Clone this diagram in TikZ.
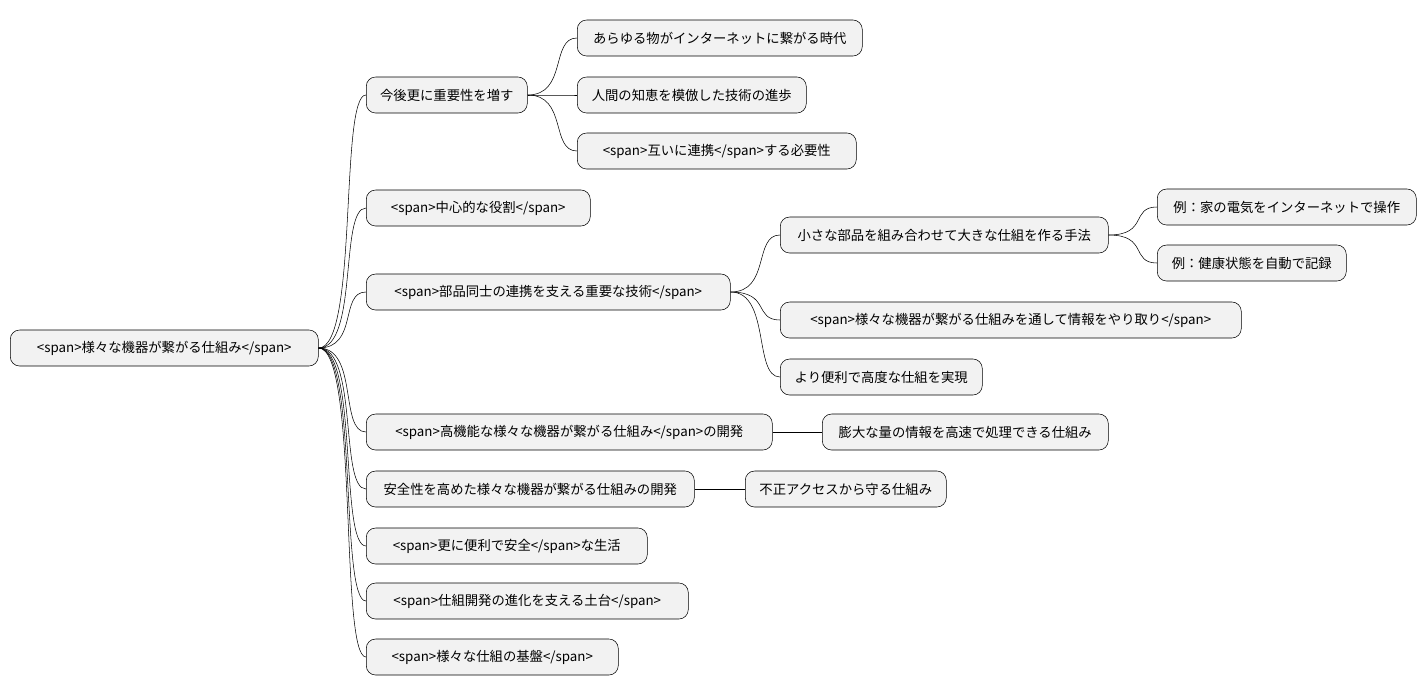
\documentclass[tikz,border=0pt]{standalone}
\usepackage{fontspec}
\setmainfont{Noto Sans CJK JP}
\usetikzlibrary{calc}
\tikzset{
  topic/.style={rectangle, rounded corners=7pt, draw=black, fill=gray!10, minimum height=27pt,
    inner xsep=0pt, font=\fontsize{10pt}{12pt}\selectfont, anchor=west},
  link/.style={thin, black}
}
% \mm{name}{x}{y}{width}{text}
\newcommand{\mm}[5]{\node (#1) [topic, minimum width=#4*0.75pt] at (#2,#3) {#5};}
\newcommand{\lk}[2]{\draw [link] (#1.east) .. controls +(30pt,0) and +(-20pt,0) .. (#2.west);}
\begin{document}
\begin{tikzpicture}[x=0.75pt,y=-0.75pt]
  \useasboundingbox (0,0) rectangle (1426,696);
  \mm{root}{10}{348}{308}{<span>様々な機器が繋がる仕組み</span>}

  \mm{fut}{366}{95}{161}{今後更に重要性を増す}
  \mm{cen}{366}{208}{224}{<span>中心的な役割</span>}
  \mm{tec}{366}{292}{364}{<span>部品同士の連携を支える重要な技術</span>}
  \mm{dev}{366}{432}{406}{<span>高機能な様々な機器が繋がる仕組み</span>の開発}
  \mm{saf}{366}{489}{328}{安全性を高めた様々な機器が繋がる仕組みの開発}
  \mm{lif}{366}{546}{281}{<span>更に便利で安全</span>な生活}
  \mm{bas}{366}{601}{322}{<span>仕組開発の進化を支える土台</span>}
  \mm{fnd}{366}{657}{252}{<span>様々な仕組の基盤</span>}

  \mm{all}{577}{38}{285}{あらゆる物がインターネットに繋がる時代}
  \mm{ai}{577}{95}{229}{人間の知恵を模倣した技術の進歩}
  \mm{coop}{577}{151}{279}{<span>互いに連携</span>する必要性}

  \mm{small}{780}{235}{328}{小さな部品を組み合わせて大きな仕組を作る手法}
  \mm{info}{780}{320}{461}{<span>様々な機器が繋がる仕組みを通して情報をやり取り</span>}
  \mm{conv}{780}{377}{202}{より便利で高度な仕組を実現}

  \mm{ex1}{1157}{207}{259}{例：家の電気をインターネットで操作}
  \mm{ex2}{1157}{263}{189}{例：健康状態を自動で記録}

  \mm{big}{822}{432}{286}{膨大な量の情報を高速で処理できる仕組み}
  \mm{acc}{745}{489}{201}{不正アクセスから守る仕組み}

  \foreach \c in {fut,cen,tec,dev,saf,lif,bas,fnd} {\lk{root}{\c}}
  \foreach \c in {all,ai,coop} {\lk{fut}{\c}}
  \foreach \c in {small,info,conv} {\lk{tec}{\c}}
  \foreach \c in {ex1,ex2} {\lk{small}{\c}}
  \draw [link] (dev) -- (big);
  \draw [link] (saf) -- (acc);
\end{tikzpicture}
\end{document}
